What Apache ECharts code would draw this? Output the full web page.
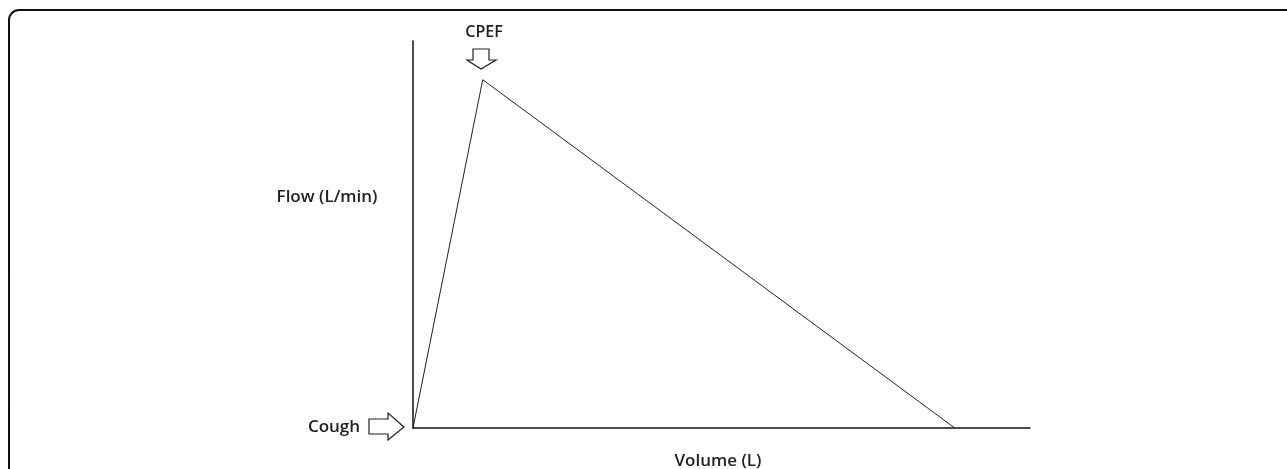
<!DOCTYPE html>
<html>
<head>
<meta charset="utf-8">
<script src="https://cdn.jsdelivr.net/npm/echarts@6/dist/echarts.min.js"></script>
<style>html,body{margin:0;padding:0;background:#fff}#c{width:1287px;height:469px}</style>
</head>
<body>
<div id="c"></div>
<script>
// Data (volume in arbitrary units, flow in arbitrary units)
const volume = [0, 11.3, 87.8];
const flow = [0, 90, 0];
const xAxisName = 'Volume (L)';
const yAxisName = 'Flow (L/min)';
const peakLabel = 'CPEF';
const startLabel = 'Cough';

const chart = echarts.init(document.getElementById('c'));
const font = '"Open Sans", "Liberation Sans", sans-serif';
const data = volume.map((v, i) => [v, flow[i]]);

chart.setOption({
  animation: false,
  backgroundColor: '#fff',
  grid: { left: 413, top: 41, width: 617, height: 387 },
  xAxis: {
    type: 'value', min: 0, max: 100,
    axisLine: { show: true, onZero: false, lineStyle: { color: '#111', width: 1.5 } },
    axisTick: { show: false }, axisLabel: { show: false }, splitLine: { show: false }
  },
  yAxis: {
    type: 'value', min: 0, max: 100,
    axisLine: { show: true, lineStyle: { color: '#111', width: 1.5 } },
    axisTick: { show: false }, axisLabel: { show: false }, splitLine: { show: false }
  },
  series: [{
    type: 'line', data: data, symbol: 'none',
    lineStyle: { color: '#222', width: 1 }
  }],
  graphic: [
    { type: 'rect', shape: { x: 9, y: 10, width: 1400, height: 600, r: 10 },
      style: { fill: 'none', stroke: '#111', lineWidth: 2 }, silent: true },
    { type: 'text', style: { text: yAxisName, x: 327, y: 197, align: 'center', verticalAlign: 'middle',
      font: '600 17px ' + font, fill: '#222' } },
    { type: 'text', style: { text: xAxisName, x: 718, y: 461, align: 'center', verticalAlign: 'middle',
      font: '600 17px ' + font, fill: '#222' } },
    { type: 'text', style: { text: peakLabel, x: 484, y: 32, align: 'center', verticalAlign: 'middle',
      font: '600 16px ' + font, fill: '#222' } },
    { type: 'text', style: { text: startLabel, x: 334, y: 427, align: 'center', verticalAlign: 'middle',
      font: '600 17px ' + font, fill: '#222' } },
    { type: 'polygon', shape: { points: [[473,49],[489,49],[489,60],[496,60],[481,69],[467,60],[473,60]] },
      style: { fill: '#fff', stroke: '#222', lineWidth: 1.2 } },
    { type: 'polygon', shape: { points: [[369,419],[388,419],[388,413],[404,427],[388,440],[388,434],[369,434]] },
      style: { fill: '#fff', stroke: '#222', lineWidth: 1.2 } }
  ]
});
</script>
</body>
</html>
